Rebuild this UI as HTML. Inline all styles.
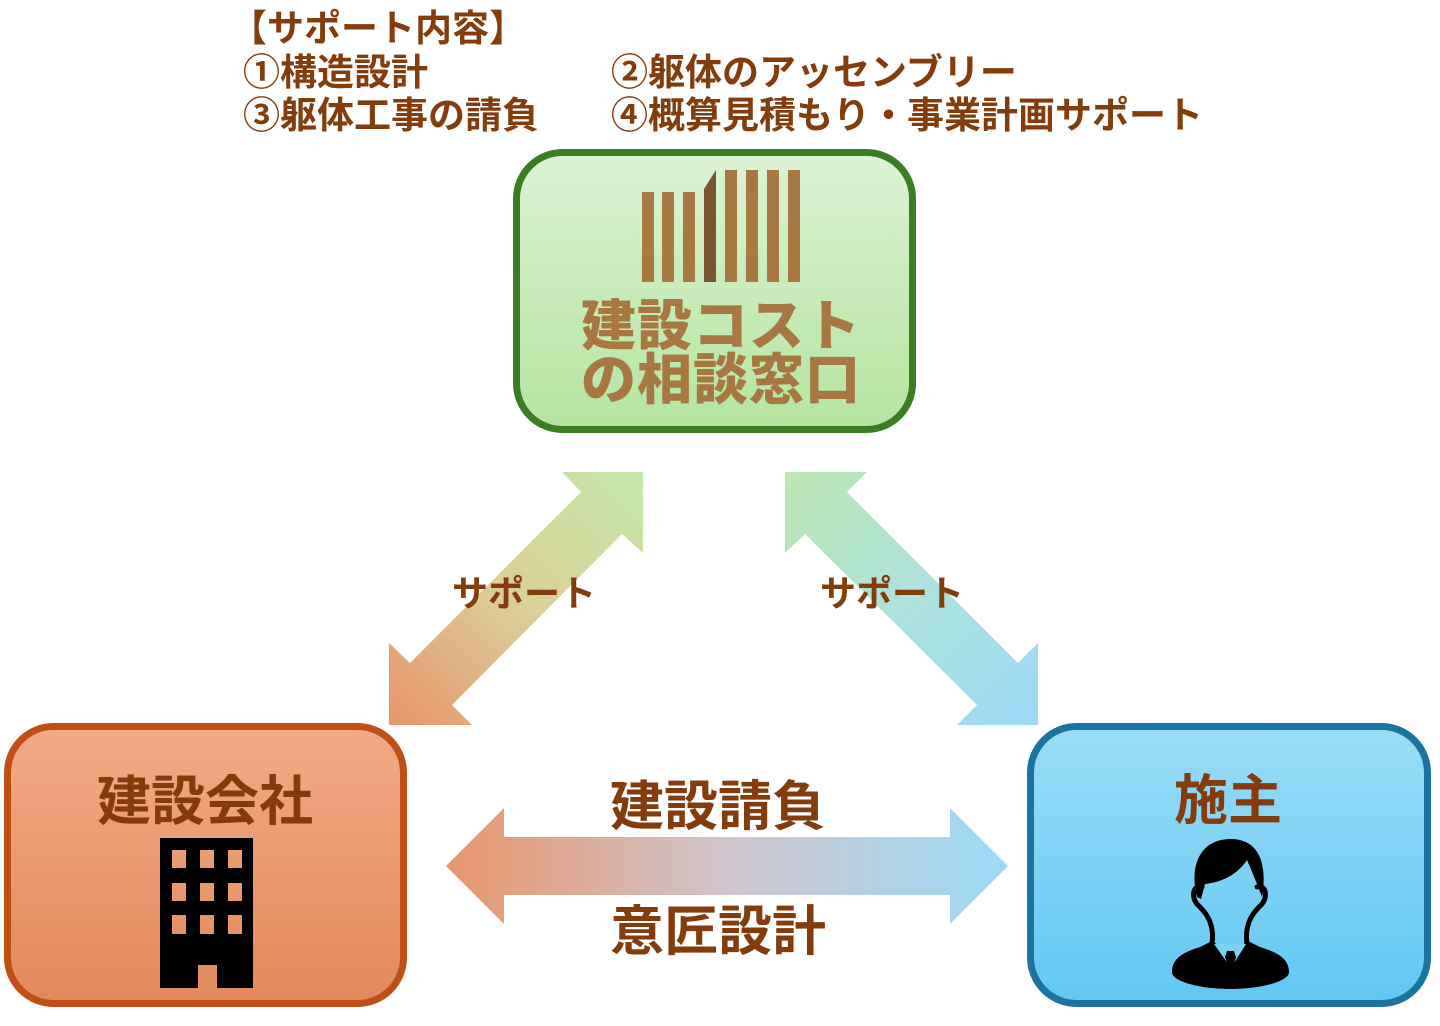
<!DOCTYPE html>
<html>
<head>
<meta charset="utf-8">
<style>
  html,body{margin:0;padding:0;background:#ffffff;}
  body{width:1440px;height:1026px;overflow:hidden;}
  svg{display:block;}
  .jp{font-family:"Liberation Sans","Noto Sans CJK JP","Noto Sans CJK SC",sans-serif;}
</style>
</head>
<body>
<svg width="1440" height="1026" viewBox="0 0 1440 1026" xmlns="http://www.w3.org/2000/svg">
  <defs>
    <linearGradient id="gGreen" x1="0" y1="0" x2="0" y2="1">
      <stop offset="0" stop-color="#dcf3d3"/>
      <stop offset="1" stop-color="#b4e49f"/>
    </linearGradient>
    <linearGradient id="gOrange" x1="0" y1="0" x2="0" y2="1">
      <stop offset="0" stop-color="#f2ab86"/>
      <stop offset="1" stop-color="#e2895b"/>
    </linearGradient>
    <linearGradient id="gBlue" x1="0" y1="0" x2="0" y2="1">
      <stop offset="0" stop-color="#9bdcf8"/>
      <stop offset="1" stop-color="#61c8f2"/>
    </linearGradient>
    <linearGradient id="gArrL" gradientUnits="userSpaceOnUse" x1="389" y1="725" x2="643" y2="472">
      <stop offset="0" stop-color="#e8956b"/>
      <stop offset="0.5" stop-color="#dbcf98"/>
      <stop offset="1" stop-color="#c2e8a8"/>
    </linearGradient>
    <linearGradient id="gArrR" gradientUnits="userSpaceOnUse" x1="785" y1="472" x2="1038" y2="725">
      <stop offset="0" stop-color="#bbe7b0"/>
      <stop offset="0.5" stop-color="#ade2dd"/>
      <stop offset="1" stop-color="#9bd9f6"/>
    </linearGradient>
    <linearGradient id="gArrH" gradientUnits="userSpaceOnUse" x1="446" y1="0" x2="1008" y2="0">
      <stop offset="0" stop-color="#e8966b"/>
      <stop offset="0.5" stop-color="#d0c4cc"/>
      <stop offset="1" stop-color="#9adbf7"/>
    </linearGradient>
  </defs>

  <!-- top text -->
  <g class="jp" font-size="37" font-weight="bold" fill="#843c0c">
    <text x="230" y="41">【サポート内容】</text>
    <text x="243" y="85">①構造設計</text>
    <text x="243" y="128">③躯体工事の請負</text>
    <text x="611" y="85">②躯体のアッセンブリー</text>
    <text x="611" y="128">④概算見積もり・事業計画サポート</text>
  </g>

  <!-- green box -->
  <rect x="516.5" y="152.5" width="396" height="277" rx="46" ry="46" fill="url(#gGreen)" stroke="#3b7d23" stroke-width="7"/>
  <g fill="#a97742">
    <rect x="642" y="192" width="12" height="90"/>
    <rect x="662" y="192" width="12" height="90"/>
    <rect x="683" y="192" width="12" height="90"/>
    <rect x="725" y="170" width="12" height="112"/>
    <rect x="746" y="170" width="12" height="112"/>
    <rect x="767" y="170" width="12" height="112"/>
    <rect x="788" y="170" width="12" height="112"/>
  </g>
  <polygon points="704,282 704,189 716,170 716,282" fill="#7b5430"/>
  <g class="jp" font-size="55" font-weight="900" fill="#a97742" text-anchor="middle">
    <text x="721" y="345" letter-spacing="1">建設コスト</text>
    <text x="721" y="399" letter-spacing="1">の相談窓口</text>
  </g>

  <!-- diagonal arrows -->
  <polygon points="643,472 562,472 581,492 410,663 389,643 389,725 472,725 452,705 622,534 643,553" fill="url(#gArrL)"/>
  <polygon points="785,472 867,472 847,492 1018,663 1038,643 1038,725 957,725 977,705 805,534 785,553" fill="url(#gArrR)"/>
  <g class="jp" font-size="36" font-weight="bold" fill="#843c0c" text-anchor="middle">
    <text x="524" y="606">サポート</text>
    <text x="892" y="606">サポート</text>
  </g>

  <!-- horizontal arrow -->
  <polygon points="446,866 504,808 504,837 950,837 950,808 1008,866 950,924 950,895 504,895 504,924" fill="url(#gArrH)"/>
  <g class="jp" font-size="54" font-weight="bold" fill="#843c0c" text-anchor="middle">
    <text x="718" y="825">建設請負</text>
    <text x="718" y="950">意匠設計</text>
  </g>

  <!-- orange box -->
  <rect x="7.5" y="726.5" width="396" height="277" rx="46" ry="46" fill="url(#gOrange)" stroke="#c04f15" stroke-width="7"/>
  <text class="jp" x="205" y="820" font-size="54" font-weight="bold" fill="#843c0c" text-anchor="middle">建設会社</text>
  <path fill="#000" fill-rule="evenodd" d="M160,838 H253 V988 H217 V965 H198 V988 H160 Z
    M172,850 h14 v18 h-14 Z M200,850 h14 v18 h-14 Z M228,850 h14 v18 h-14 Z
    M172,883 h14 v18 h-14 Z M200,883 h14 v18 h-14 Z M228,883 h14 v18 h-14 Z
    M172,915 h14 v19 h-14 Z M200,915 h14 v19 h-14 Z M228,915 h14 v19 h-14 Z"/>

  <!-- blue box -->
  <rect x="1030.5" y="726.5" width="397" height="277" rx="46" ry="46" fill="url(#gBlue)" stroke="#1b74a0" stroke-width="7"/>
  <text class="jp" x="1228" y="819" font-size="54" font-weight="bold" fill="#843c0c" text-anchor="middle">施主</text>
  <g>
    <path fill="#000" d="M1197,897 C1189,866 1200,840 1229,839 C1258,838 1268,862 1262,897 L1257,884 C1253,874 1250,867 1247,860 C1237,875 1222,882 1205,884 L1201,899 Z"/>
    <path fill="none" stroke="#000" stroke-width="5" stroke-linecap="round" d="M1202,887 C1193,884 1191,897 1197,904 C1202,909 1207,914 1210,922 C1213,930 1213,937 1212,944 M1257,887 C1266,884 1268,897 1262,904 C1257,909 1252,914 1249,922 C1246,930 1246,937 1247,944"/>
    <path fill="#000" d="M1172,972 C1172,958 1184,952 1200,947 L1212,941 L1230,953 L1248,941 L1260,947 C1276,952 1289,958 1289,972 C1289,982 1258,989 1230,989 C1202,989 1172,982 1172,972 Z"/>
    <polygon points="1214,944 1246,944 1231,968" fill="#7dd2f4"/>
    <polygon points="1227,951 1234,951 1236,957 1233,969 1229,969 1225,957" fill="#000"/>
  </g>
</svg>
</body>
</html>
